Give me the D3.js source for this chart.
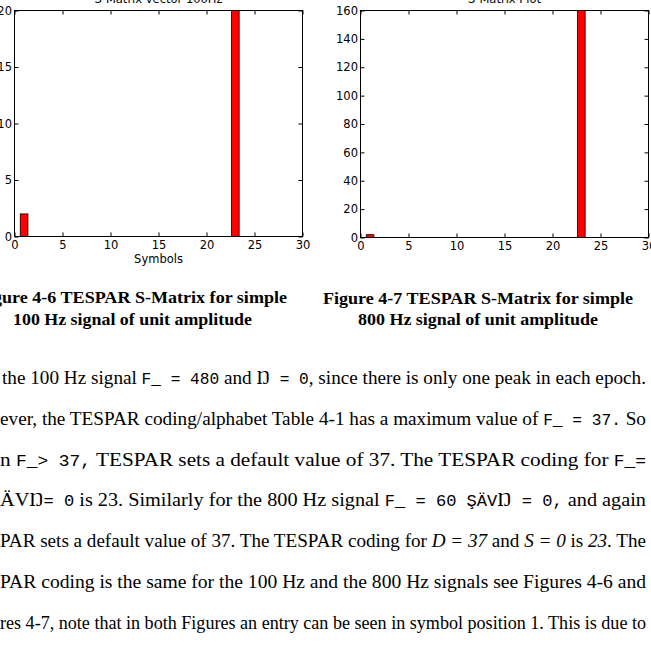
<!DOCTYPE html>
<html>
  <head>
    <meta charset="utf-8">
    <title>TESPAR S-Matrix</title>
    <script src="https://d3js.org/d3.v7.min.js"></script>
    <style>
      html, body { margin: 0; padding: 0; overflow: hidden; background: #fff; }
      svg { display: block; }
      .tick text { font-family: "DejaVu Sans", sans-serif; font-size: 11.5px; fill: #000; }
      .tick line { stroke: #000; stroke-width: 1; }
    </style>
  </head>
  <body>
    <div id="page"></div>
    <script>
    // data (tall bars run past the y limit)
    const symbols = [1, 23];
    const counts100 = [2, 198];
    const counts800 = [2, 1598];
    const xTicks = [0, 5, 10, 15, 20, 25, 30];
    const yTicks100 = [0, 5, 10, 15, 20];
    const yTicks800 = [0, 20, 40, 60, 80, 100, 120, 140, 160];

    const captions100 = ["Figure 4-6 TESPAR S-Matrix for simple", "100 Hz signal of unit amplitude"];
    const captions800 = ["Figure 4-7 TESPAR S-Matrix for simple", "800 Hz signal of unit amplitude"];

    // body text lines, segments: [text, style] m = mono, i = italic
    const bodyLines = [
      [["the 100 Hz signal "], ["F_ = 480", "m"], [" and Ŋ"], [" = 0", "m"], [", since there is only one peak in each epoch."]],
      [["ever, the TESPAR coding/alphabet Table 4-1 has a maximum value of "], ["F_ = 37.", "m"], [" So"]],
      [["n "], ["F_> 37,", "m"], [" TESPAR sets a default value of 37. The TESPAR coding for "], ["F_=", "m"]],
      [["ÄVŊ"], ["= 0", "m"], [" is 23. Similarly for the 800 Hz signal "], ["F_ = 60 ŞÄV", "m"], ["Ŋ"], [" = 0,", "m"], [" and again"]],
      [["PAR sets a default value of 37. The TESPAR coding for "], ["D = 37", "i"], [" and "], ["S = 0", "i"], [" is "], ["23", "i"], [". The"]],
      [["PAR coding is the same for the 100 Hz and the 800 Hz signals see Figures 4-6 and"]],
      [["res 4-7, note that in both Figures an entry can be seen in symbol position 1. This is due to"]]
    ];

    var width = 651, height = 654;

    const svg = d3.select("#page")
      .append("svg")
      .attr("width", width)
      .attr("height", height);

    function drawPanel(p) {
      const x = d3.scaleLinear().domain([0, 30]).range([p.left, p.right]);
      const y = d3.scaleLinear().domain([0, p.yMax]).range([p.bottom, p.top]);

      // clip bars to the plot box
      svg.append("clipPath").attr("id", p.id)
        .append("rect")
        .attr("x", p.left).attr("y", p.top)
        .attr("width", p.right - p.left).attr("height", p.bottom - p.top);

      const data = symbols.map((s, i) => ({ s: s, v: p.values[i] }));
      svg.append("g")
        .attr("clip-path", "url(#" + p.id + ")")
        .selectAll("rect")
        .data(data)
        .join("rect")
        .attr("x", d => x(d.s - 0.4))
        .attr("width", d => x(d.s + 0.4) - x(d.s - 0.4))
        .attr("y", d => y(d.v))
        .attr("height", d => y(0) - y(d.v))
        .attr("fill", "#ff0000")
        .attr("stroke", "#000")
        .attr("stroke-width", 0.8);

      // ticks point inward on all four sides
      const bottom = svg.append("g")
        .attr("transform", "translate(0," + p.bottom + ")")
        .call(d3.axisBottom(x).tickValues(xTicks).tickSizeInner(-4).tickSizeOuter(0).tickPadding(4));
      const top = svg.append("g")
        .attr("transform", "translate(0," + p.top + ")")
        .call(d3.axisTop(x).tickValues(xTicks).tickSizeInner(-4).tickSizeOuter(0).tickFormat(""));
      const left = svg.append("g")
        .attr("transform", "translate(" + p.left + ",0)")
        .call(d3.axisLeft(y).tickValues(p.yTicks).tickSizeInner(-4).tickSizeOuter(0).tickPadding(2.5));
      const right = svg.append("g")
        .attr("transform", "translate(" + p.right + ",0)")
        .call(d3.axisRight(y).tickValues(p.yTicks).tickSizeInner(-4).tickSizeOuter(0).tickFormat(""));
      [bottom, top, left, right].forEach(a => {
        a.select(".domain").remove();
        a.attr("font-family", null).attr("font-size", null);
      });

      svg.append("rect")
        .attr("x", p.left).attr("y", p.top)
        .attr("width", p.right - p.left).attr("height", p.bottom - p.top)
        .attr("fill", "none").attr("stroke", "#000").attr("stroke-width", 1);

      // title, mostly cut off at the top of the page
      svg.append("text")
        .attr("x", (p.left + p.right) / 2).attr("y", 2.5)
        .attr("text-anchor", "middle")
        .style("font-family", "DejaVu Sans").style("font-size", "11.5px")
        .text(p.title);

      if (p.xLabel) {
        svg.append("text")
          .attr("x", (p.left + p.right) / 2).attr("y", p.bottom + 26)
          .attr("text-anchor", "middle")
          .style("font-family", "DejaVu Sans").style("font-size", "11.5px")
          .text(p.xLabel);
      }

      // bold figure caption
      p.caption.forEach((c, i) => {
        svg.append("text")
          .attr("x", p.capX[i]).attr("y", p.capY[i])
          .attr("textLength", p.capW[i])
          .attr("lengthAdjust", "spacingAndGlyphs")
          .style("font-family", "Liberation Serif").style("font-weight", "bold")
          .style("font-size", "17px")
          .text(c);
      });
    }

    drawPanel({
      id: "clip100", left: 14.5, right: 302.5, top: 10.5, bottom: 236.5,
      yMax: 20, yTicks: yTicks100, values: counts100,
      title: "S-Matrix vector 100Hz", xLabel: "Symbols",
      caption: captions100, capX: [-23, 13], capY: [303, 325], capW: [310, 239]
    });
    drawPanel({
      id: "clip800", left: 360.5, right: 648.5, top: 10.5, bottom: 237.5,
      yMax: 160, yTicks: yTicks800, values: counts800,
      title: "S-Matrix Plot", xLabel: null,
      caption: captions800, capX: [323, 358], capY: [304, 325], capW: [310, 240]
    });

    // justified body text underneath
    bodyLines.forEach((line, i) => {
      const x0 = i === 0 ? 2 : 0;
      const t = svg.append("text")
        .attr("x", x0).attr("y", 384 + i * 40.8)
        .attr("textLength", 646 - x0)
        .attr("lengthAdjust", "spacingAndGlyphs")
        .style("font-family", "Liberation Serif").style("font-size", "19px");
      line.forEach(seg => {
        const s = t.append("tspan").text(seg[0]);
        if (seg[1] === "m") s.style("font-family", "Liberation Mono").style("font-size", "16px");
        if (seg[1] === "i") s.style("font-style", "italic");
      });
    });
    </script>
  </body>
</html>
